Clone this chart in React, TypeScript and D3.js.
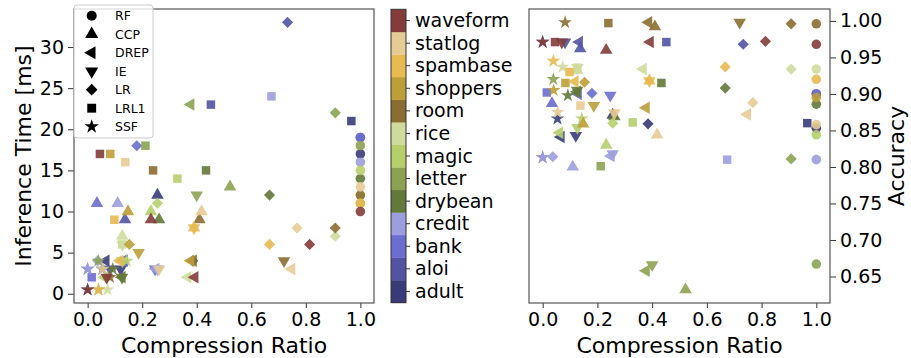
import React, { useEffect, useRef } from "react";
import * as d3 from "d3";

// dataset order = colorbar order, bottom to top
const datasets = ["adult", "aloi", "bank", "credit", "drybean", "letter", "magic", "rice", "room", "shoppers", "spambase", "statlog", "waveform"];
const colors = ["#393b79", "#5254a3", "#6b6ecf", "#9c9ede", "#637939", "#8ca252", "#b5cf6b", "#cedb9c", "#8c6d31", "#bd9e39", "#e7ba52", "#e7cb94", "#843c39"];
const methods = ["RF", "CCP", "DREP", "IE", "LR", "LRL1", "SSF"];

// compression ratio, one value per dataset
const ratioRF = [1, 1, 1, 1, 1, 1, 1, 1, 1, 1, 1, 1, 1];
const ratioCCP = [0.256, 0.137, 0.034, 0.11, 0.262, 0.522, 0.232, 0.127, 0.41, 0.148, 0.39, 0.418, 0.232];
const ratioDREP = [0.067, 0.134, 0.13, 0.25, 0.126, 0.378, 0.062, 0.367, 0.387, 0.378, 0.118, 0.748, 0.393];
const ratioIE = [0.121, 0.082, 0.247, 0.256, 0.126, 0.4, 0.127, 0.127, 0.72, 0.187, 0.39, 0.262, 0.07];
const ratioLR = [0.385, 0.733, 0.18, 0.037, 0.667, 0.908, 0.256, 0.908, 0.908, 0.153, 0.667, 0.768, 0.814];
const ratioLRL1 = [0.967, 0.452, 0.015, 0.674, 0.434, 0.212, 0.329, 0.127, 0.24, 0.083, 0.098, 0.138, 0.045];
const ratioSSF = [0.054, 0.0, 0.0, 0.0, 0.092, 0.039, 0.143, 0.073, 0.082, 0.04, 0.039, 0.055, 0.0];

// inference time [ms]
const timeRF = [17, 19, 19, 16, 14, 18, 15, 12, 12, 11, 11, 13, 10];
const timeCCP = [12, 9, 11, 11, 9, 13, 10, 7, 9, 10, 8, 10, 9];
const timeDREP = [4, 4, 4, 3, 2, 23, 2, 2, 4, 4, 4, 3, 2];
const timeIE = [3, 3, 3, 3, 2, 12, 4, 6, 4, 5, 8, 3, 2];
const timeLR = [4, 33, 18, 4, 12, 22, 11, 7, 8, 6, 6, 8, 6];
const timeLRL1 = [21, 23, 2, 24, 15, 18, 14, 6, 15, 17, 9, 16, 17];
const timeSSF = [3, 0.5, 3, 3, 3, 4, 4, 0.5, 2, 0.5, 0.5, 3, 0.5];

// accuracy
const accRF = [0.853, 0.9, 0.9, 0.81, 0.886, 0.667, 0.844, 0.934, 0.996, 0.895, 0.92, 0.858, 0.968];
const accCCP = [0.871, 0.962, 0.887, 0.8, 0.869, 0.632, 0.83, 0.932, 0.992, 0.859, 0.918, 0.844, 0.96];
const accDREP = [0.841, 0.971, 0.9, 0.815, 0.903, 0.658, 0.847, 0.934, 0.998, 0.881, 0.917, 0.872, 0.971];
const accIE = [0.843, 0.971, 0.898, 0.818, 0.905, 0.666, 0.854, 0.936, 0.998, 0.884, 0.918, 0.874, 0.971];
const accLR = [0.859, 0.968, 0.901, 0.814, 0.908, 0.811, 0.86, 0.934, 0.996, 0.916, 0.937, 0.888, 0.972];
const accLRL1 = [0.86, 0.971, 0.902, 0.81, 0.915, 0.801, 0.861, 0.936, 0.997, 0.915, 0.93, 0.884, 0.971];
const accSSF = [0.866, 0.971, 0.813, 0.813, 0.898, 0.92, 0.866, 0.937, 0.998, 0.905, 0.945, 0.875, 0.971];

const ratios = [ratioRF, ratioCCP, ratioDREP, ratioIE, ratioLR, ratioLRL1, ratioSSF];
const times = [timeRF, timeCCP, timeDREP, timeIE, timeLR, timeLRL1, timeSSF];
const accs = [accRF, accCCP, accDREP, accIE, accLR, accLRL1, accSSF];

const FONT = "DejaVu Sans";

const markerPath = (m: number, k = 1) => {
  const shapes: [any, number, number][] = [
    [d3.symbolCircle, 72, 0],
    [d3.symbolTriangle, 68, 0],
    [d3.symbolTriangle, 68, -90],
    [d3.symbolTriangle, 68, 180],
    [d3.symbolSquare, 62, 45],
    [d3.symbolSquare, 72, 0],
    [d3.symbolStar, 58, 0],
  ];
  const [type, size, rot] = shapes[m];
  return { d: d3.symbol().type(type).size(size * k)() as string, rot };
};

const padded = (vals: number[]) => {
  const [lo, hi] = d3.extent(vals) as [number, number];
  const p = (hi - lo) * 0.05;
  return [lo - p, hi + p];
};

const App = () => {
  const svgRef = useRef<SVGSVGElement>(null);

  useEffect(() => {
    const svg = d3.select(svgRef.current);
    svg.selectAll("*").remove();

    const points: { m: number; i: number; r: number; t: number; a: number }[] = [];
    datasets.forEach((_, i) => {
      methods.forEach((_, m) => {
        points.push({ m, i, r: ratios[m][i], t: times[m][i], a: accs[m][i] });
      });
    });

    const top = 9, bottom = 303;
    const xDom = padded(points.map((p) => p.r));
    const x1 = d3.scaleLinear().domain(xDom).range([74, 374]);
    const x2 = d3.scaleLinear().domain(xDom).range([529, 830]);
    const y1 = d3.scaleLinear().domain(padded(points.map((p) => p.t))).range([bottom, top]);
    const y2 = d3.scaleLinear().domain(padded(points.map((p) => p.a))).range([bottom, top]);

    const styleAxis = (g: any) => {
      g.selectAll("text").attr("font-family", FONT).attr("font-size", 19).attr("fill", "#000");
      g.selectAll(".tick line").attr("stroke", "#333");
      g.select(".domain").remove();
    };

    // left panel axes
    svg.append("g").attr("transform", `translate(0,${bottom})`)
      .call(d3.axisBottom(x1).tickValues([0, 0.2, 0.4, 0.6, 0.8, 1.0]).tickFormat(d3.format(".1f")).tickSize(5).tickPadding(5))
      .call(styleAxis);
    svg.append("g").attr("transform", `translate(74,0)`)
      .call(d3.axisLeft(y1).tickValues([0, 5, 10, 15, 20, 25, 30]).tickSize(6).tickPadding(4))
      .call(styleAxis);

    // right panel axes
    svg.append("g").attr("transform", `translate(0,${bottom})`)
      .call(d3.axisBottom(x2).tickValues([0, 0.2, 0.4, 0.6, 0.8, 1.0]).tickFormat(d3.format(".1f")).tickSize(5).tickPadding(5))
      .call(styleAxis);
    svg.append("g").attr("transform", `translate(830,0)`)
      .call(d3.axisRight(y2).tickValues([0.65, 0.7, 0.75, 0.8, 0.85, 0.9, 0.95, 1.0]).tickFormat(d3.format(".2f")).tickSize(6).tickPadding(4))
      .call(styleAxis);

    const drawPoints = (xs: any, ys: any, key: "t" | "a") => {
      svg.append("g")
        .selectAll("path")
        .data(points)
        .enter()
        .append("path")
        .attr("d", (p) => markerPath(p.m).d)
        .attr("transform", (p) => `translate(${xs(p.r)},${ys(p[key])}) rotate(${markerPath(p.m).rot})`)
        .attr("fill", (p) => colors[p.i])
        .attr("fill-opacity", 0.9);
    };
    drawPoints(x1, y1, "t");
    drawPoints(x2, y2, "a");

    // frames
    [[74, 374], [529, 830]].forEach(([l, r]) => {
      svg.append("rect").attr("x", l).attr("y", top).attr("width", r - l).attr("height", bottom - top)
        .attr("fill", "none").attr("stroke", "#555").attr("stroke-width", 1.2);
    });

    // axis labels
    const label = (txt: string, x: number, y: number, rot = 0) =>
      svg.append("text").text(txt).attr("transform", `translate(${x},${y}) rotate(${rot})`)
        .attr("text-anchor", "middle").attr("font-family", FONT).attr("font-size", 22);
    label("Compression Ratio", 224, 353);
    label("Compression Ratio", 679.5, 353);
    label("Inference Time [ms]", 31, 156, -90);
    label("Accuracy", 904, 156, -90);

    // legend
    const lg = svg.append("g");
    lg.append("rect").attr("x", 74).attr("y", 5).attr("width", 79).attr("height", 133).attr("rx", 3)
      .attr("fill", "#fff").attr("fill-opacity", 0.8).attr("stroke", "#ccc");
    methods.forEach((name, m) => {
      const cy = 15.7 + m * 18.5;
      const mk = markerPath(m, 1.1);
      lg.append("path").attr("d", mk.d).attr("transform", `translate(91.7,${cy}) rotate(${mk.rot})`).attr("fill", "#000");
      lg.append("text").text(name).attr("x", 115).attr("y", cy + 4.5)
        .attr("font-family", FONT).attr("font-size", 12.5).attr("fill", "#000");
    });

    // categorical colorbar
    const cb = d3.scaleBand<number>().domain(d3.range(datasets.length)).range([302.7, 9.3]);
    const cg = svg.append("g");
    cg.selectAll("rect").data(datasets).enter().append("rect")
      .attr("x", 391).attr("width", 15)
      .attr("y", (_, i) => cb(i)!)
      .attr("height", cb.bandwidth() + 0.3)
      .attr("fill", (_, i) => colors[i]);
    cg.append("rect").attr("x", 391).attr("y", 9.3).attr("width", 15).attr("height", 293.4)
      .attr("fill", "none").attr("stroke", "#333").attr("stroke-width", 1);
    datasets.forEach((name, i) => {
      const cy = cb(i)! + cb.bandwidth() / 2;
      cg.append("line").attr("x1", 406).attr("x2", 410).attr("y1", cy).attr("y2", cy).attr("stroke", "#333");
      cg.append("text").text(name).attr("x", 415).attr("y", cy + 6.5)
        .attr("font-family", FONT).attr("font-size", 19).attr("fill", "#000");
    });
  }, []);

  return <svg ref={svgRef} width={911} height={358} style={{ position: "absolute", left: 0, top: 0, background: "#fff" }}></svg>;
};

export default App;
